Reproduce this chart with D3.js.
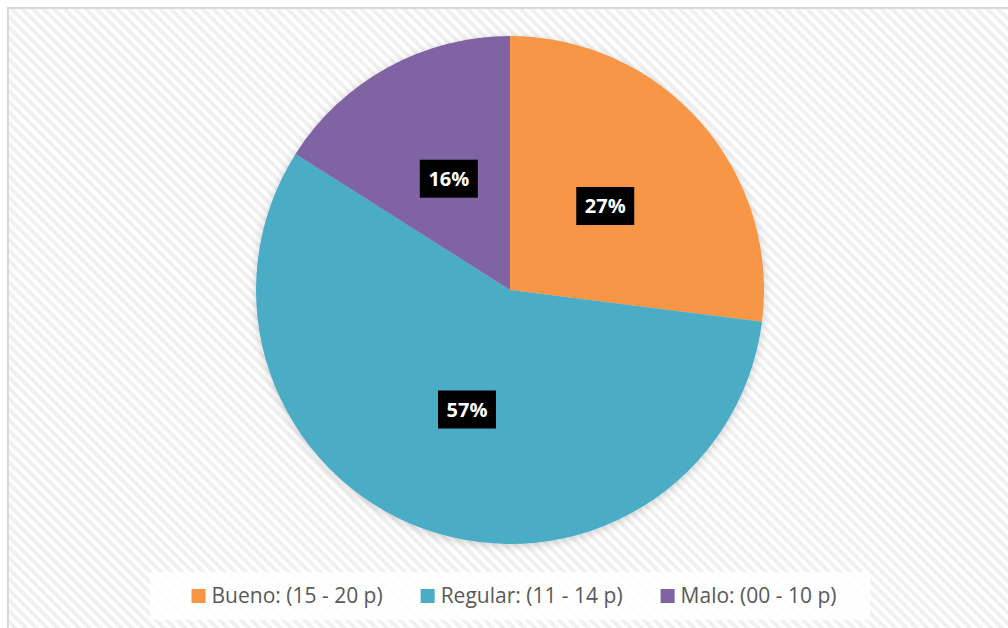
<!DOCTYPE html>
<html>
<head>
<meta charset="utf-8">
<script src="https://cdn.jsdelivr.net/npm/d3@7"></script>
<style>
  html, body { margin: 0; padding: 0; background: #fff; }
  svg { display: block; }
</style>
</head>
<body>
<div id="root"></div>
<script>
const categories = ["Bueno: (15 - 20 p)", "Regular: (11 - 14 p)", "Malo: (00 - 10 p)"];
const values = [27, 57, 16];
const labels = ["27%", "57%", "16%"];
const colors = ["#F79646", "#4BACC6", "#8064A2"];

const W = 1008, H = 628;
const svg = d3.select("#root").append("svg")
  .attr("width", W)
  .attr("height", H);

const defs = svg.append("defs");
const pat = defs.append("pattern")
  .attr("id", "hatch")
  .attr("patternUnits", "userSpaceOnUse")
  .attr("width", 7.5)
  .attr("height", 7.5)
  .attr("patternTransform", "rotate(-45)");
pat.append("rect").attr("width", 7.5).attr("height", 7.5).attr("fill", "#ffffff");
pat.append("rect").attr("width", 3.8).attr("height", 7.5).attr("fill", "#f0f0f0");

const shadow = defs.append("filter").attr("id", "shadow")
  .attr("x", "-10%").attr("y", "-10%").attr("width", "120%").attr("height", "120%");
shadow.append("feDropShadow")
  .attr("dx", 0).attr("dy", 2).attr("stdDeviation", 4)
  .attr("flood-color", "#000").attr("flood-opacity", 0.18);

// chart area background + border
svg.append("rect")
  .attr("x", 8).attr("y", 8)
  .attr("width", W).attr("height", H)
  .attr("fill", "url(#hatch)")
  .attr("stroke", "#d9d9d9")
  .attr("stroke-width", 2);

const cx = 510, cy = 290, r = 254;

const pie = d3.pie().sort(null).value(d => d);
const arcs = pie(values);
const arc = d3.arc().innerRadius(0).outerRadius(r);
const labelArc = d3.arc().innerRadius(r / 2).outerRadius(r / 2);

const g = svg.append("g").attr("transform", "translate(" + cx + "," + cy + ")");

g.append("g")
  .attr("filter", "url(#shadow)")
  .selectAll("path")
  .data(arcs)
  .enter()
  .append("path")
  .attr("d", arc)
  .attr("fill", (d, i) => colors[i]);

// data labels
const lab = g.selectAll(".lab")
  .data(arcs)
  .enter()
  .append("g")
  .attr("class", "lab")
  .attr("transform", d => "translate(" + labelArc.centroid(d) + ")");

lab.append("rect")
  .attr("x", -29).attr("y", -19)
  .attr("width", 58).attr("height", 38)
  .attr("fill", "#000");

lab.append("text")
  .attr("text-anchor", "middle")
  .attr("dy", "0.36em")
  .attr("fill", "#fff")
  .style("font-family", "'Open Sans', sans-serif")
  .style("font-weight", "bold")
  .style("font-size", "20px")
  .text((d, i) => labels[i]);

// legend
svg.append("rect")
  .attr("x", 150).attr("y", 572)
  .attr("width", 720).attr("height", 48)
  .attr("fill", "#ffffff")
  .attr("opacity", 0.85);

const leg = svg.append("g");
const items = leg.selectAll(".item")
  .data(categories)
  .enter()
  .append("g")
  .attr("class", "item");

items.append("rect")
  .attr("width", 14).attr("height", 14)
  .attr("y", -7)
  .attr("fill", (d, i) => colors[i]);

items.append("text")
  .attr("x", 20)
  .attr("dy", "0.35em")
  .attr("fill", "#595959")
  .style("font-family", "'Open Sans', sans-serif")
  .style("font-size", "21px")
  .text(d => d);

// lay items out in a row, centered
let widths = [];
items.each(function() {
  widths.push(20 + this.querySelector("text").getComputedTextLength());
});
const gap = 38;
const total = d3.sum(widths) + gap * (widths.length - 1);
let x0 = 514 - total / 2;
items.attr("transform", (d, i) => {
  const x = x0 + d3.sum(widths.slice(0, i)) + gap * i;
  return "translate(" + x + ",596)";
});
</script>
</body>
</html>
